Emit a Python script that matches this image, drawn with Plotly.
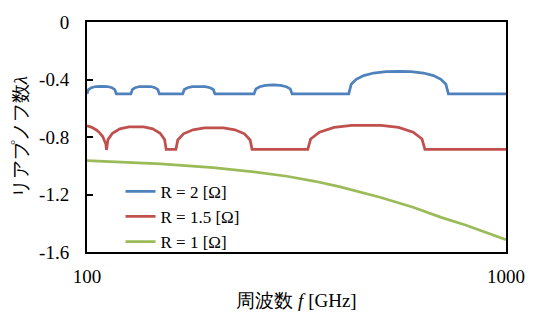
import plotly.graph_objects as go

# ---- data ----
# R = 2 [Ω]
f_r2 = [100.0, 100.8, 102.4, 105.0, 108.4, 111.9, 114.7, 116.5, 117.5,
        127.3, 128.3, 130.3, 133.4, 137.6, 142.0, 145.3, 147.6, 148.8,
        169.2, 170.7, 173.8, 178.4, 184.9, 191.6, 196.7, 200.2, 202.0,
        250.4, 253.0, 258.4, 266.6, 278.0, 289.9, 299.1, 305.5, 308.7,
        421.4, 427.2, 439.1, 457.5, 483.2, 517.4, 554.1, 593.3, 635.4, 671.1, 699.3, 718.7, 728.6,
        1000.0]
lam_r2 = [-0.500, -0.470, -0.457, -0.449, -0.447, -0.449, -0.457, -0.470, -0.500,
          -0.500, -0.470, -0.457, -0.449, -0.447, -0.449, -0.457, -0.470, -0.500,
          -0.500, -0.470, -0.457, -0.449, -0.447, -0.449, -0.457, -0.470, -0.500,
          -0.500, -0.465, -0.450, -0.441, -0.438, -0.441, -0.450, -0.465, -0.500,
          -0.500, -0.433, -0.399, -0.373, -0.355, -0.345, -0.343, -0.345, -0.355, -0.373, -0.399, -0.433, -0.500,
          -0.500]

# R = 1.5 [Ω]
f_r15 = [100.0, 102.7, 105.5, 107.2, 109.0, 110.1, 110.9,
         111.3, 112.2, 115.0, 119.8, 125.9, 131.1, 136.6, 143.5, 149.5, 153.2, 154.5,
         163.0, 164.7, 169.9, 179.1, 190.7, 200.9, 211.7, 225.4, 237.6, 245.1, 247.7,
         336.4, 341.8, 358.7, 388.8, 428.2, 464.2, 503.1, 554.1, 600.6, 630.3, 640.5,
         1000.0]
lam_r15 = [-0.722, -0.733, -0.753, -0.771, -0.797, -0.822, -0.849,
           -0.890, -0.818, -0.774, -0.743, -0.730, -0.728, -0.730, -0.743, -0.774, -0.818, -0.886,
           -0.886, -0.821, -0.778, -0.750, -0.737, -0.735, -0.737, -0.750, -0.778, -0.821, -0.886,
           -0.886, -0.814, -0.766, -0.733, -0.719, -0.717, -0.719, -0.733, -0.766, -0.814, -0.886,
           -0.886]

# R = 1 [Ω]
f_r1 = [100, 120, 150, 200, 250, 300, 350, 400, 450, 500, 600, 700, 800, 900, 1000]
lam_r1 = [-0.965, -0.974, -0.987, -1.013, -1.042, -1.073, -1.108, -1.145, -1.183,
          -1.219, -1.289, -1.359, -1.412, -1.464, -1.514]

series_names = ["R = 2 [Ω]", "R = 1.5 [Ω]", "R = 1 [Ω]"]
series_colors = ["#4F81BD", "#C0504D", "#9BBB59"]

y_tickvals = [0, -0.4, -0.8, -1.2, -1.6]
y_ticktext = ["0", "-0.4", "-0.8", "-1.2", "-1.6"]
x_tickvals = [100, 1000]
x_ticktext = ["100", "1000"]

FONT = "Liberation Serif"

fig = go.Figure()
for xs, ys, name, col in zip([f_r2, f_r15, f_r1], [lam_r2, lam_r15, lam_r1],
                             series_names, series_colors):
    fig.add_trace(go.Scatter(x=xs, y=ys, mode="lines", name=name,
                             line=dict(color=col, width=2.75)))

fig.update_layout(
    width=537, height=320,
    margin=dict(l=87, r=21, t=19, b=64),
    paper_bgcolor="white", plot_bgcolor="white",
    font=dict(family=FONT, size=19, color="black"),
    showlegend=True,
    legend=dict(x=0.08, y=0.34, xanchor="left", yanchor="top",
                bgcolor="rgba(0,0,0,0)", font=dict(size=17),
                tracegroupgap=0, itemwidth=30),
)
fig.update_xaxes(
    type="log", range=[2, 3],
    tickvals=x_tickvals, ticktext=x_ticktext,
    showgrid=False, zeroline=False,
    showline=True, linecolor="black", linewidth=2, mirror=True,
    ticks="", ticklabelstandoff=6,
    title=dict(text="周波数 <i>f</i> [GHz]", standoff=8,
               font=dict(family=FONT, size=19)),
)
fig.update_yaxes(
    range=[-1.6, 0],
    tickvals=y_tickvals, ticktext=y_ticktext,
    showgrid=False, zeroline=False,
    showline=True, linecolor="black", linewidth=2, mirror=True,
    ticks="inside", ticklen=6, tickwidth=2, tickcolor="black",
    ticklabelstandoff=12,
    title=dict(text="リアプノフ数<i>λ</i>", standoff=6,
               font=dict(family=FONT, size=19)),
)

fig.write_html("out.html", config={"displayModeBar": False},
               post_script="document.body.style.margin='0';document.body.style.overflow='hidden';")
